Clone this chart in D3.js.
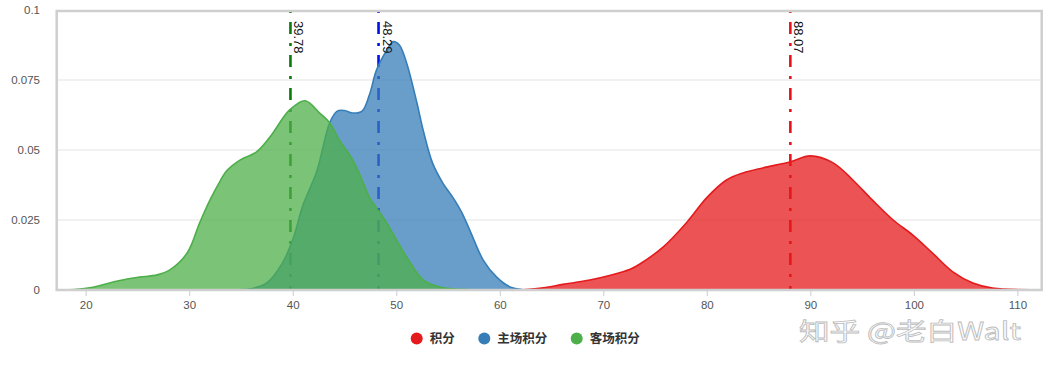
<!DOCTYPE html>
<html>
<head>
<meta charset="utf-8">
<script src="https://cdn.jsdelivr.net/npm/d3@7"></script>
<style>
  body { margin: 0; background: #fff; }
  svg text { font-family: "Liberation Sans", Arial, sans-serif; }
</style>
</head>
<body>
<div id="chart"></div>
<script>
// density curves
const seriesNames = ["积分", "主场积分", "客场积分"];
const seriesColors = ["#e41a1c", "#377eb8", "#4daf4a"];
const meanColors = ["#e8101a", "#0010e8", "#0a7a0a"];
const means = [88.07, 48.29, 39.78];

const totalX = [62.2, 64.2, 66.1, 68.7, 70.6, 72.6, 73.5, 75.8, 78.1, 80.0, 81.9, 83.5, 85.4, 88.0, 90.0, 92.2, 94.1, 96.0, 98.0, 99.9, 101.8, 103.8, 105.7, 107.6, 111.2];
const totalY = [0.0001, 0.0008, 0.0020, 0.0036, 0.0052, 0.0074, 0.0092, 0.0154, 0.0243, 0.0330, 0.0393, 0.0418, 0.0436, 0.0457, 0.0479, 0.0454, 0.0393, 0.0321, 0.0250, 0.0196, 0.0132, 0.0064, 0.0025, 0.0007, 0.0001];

const homeX = [34.2, 35.9, 37.5, 39.0, 40.0, 41.0, 42.3, 43.6, 44.3, 45.0, 45.8, 46.7, 47.4, 48.1, 49.1, 49.7, 50.3, 51.0, 52.0, 52.6, 53.5, 54.5, 55.5, 56.3, 57.1, 58.4, 59.7, 61.0, 62.2];
const homeY = [0.0000, 0.0004, 0.0025, 0.0096, 0.0179, 0.0304, 0.0421, 0.0600, 0.0639, 0.0641, 0.0632, 0.0639, 0.0696, 0.0786, 0.0857, 0.0887, 0.0875, 0.0811, 0.0668, 0.0571, 0.0454, 0.0382, 0.0329, 0.0279, 0.0214, 0.0107, 0.0046, 0.0011, 0.0002];

const awayX = [17.8, 18.9, 20.7, 22.3, 24.0, 25.2, 26.9, 28.1, 29.8, 31.0, 32.0, 33.0, 33.6, 34.9, 36.5, 37.8, 39.7, 41.2, 42.6, 43.6, 44.5, 45.8, 46.7, 47.4, 48.9, 51.0, 52.6, 54.2, 57.1];
const awayY = [0.0001, 0.0002, 0.0010, 0.0025, 0.0039, 0.0046, 0.0054, 0.0071, 0.0132, 0.0239, 0.0321, 0.0390, 0.0425, 0.0464, 0.0493, 0.0546, 0.0643, 0.0676, 0.0632, 0.0596, 0.0536, 0.0464, 0.0393, 0.0332, 0.0250, 0.0118, 0.0036, 0.0011, 0.0002];

const xTicks = [20, 30, 40, 50, 60, 70, 80, 90, 100, 110];
const yTicks = [0, 0.025, 0.05, 0.075, 0.1];
const yTickLabels = ["0", "0.025", "0.05", "0.075", "0.1"];

const W = 1049, H = 365;
const plot = { left: 56.7, right: 1041.7, top: 10, bottom: 290 };

const svg = d3.select("#chart").append("svg")
  .attr("width", W)
  .attr("height", H);

const x = d3.scaleLinear().domain([17.2, 112.35]).range([plot.left, plot.right]);
const y = d3.scaleLinear().domain([0, 0.1]).range([plot.bottom, plot.top]);

// watermark (under everything)
svg.append("text")
  .attr("x", 799).attr("y", 340)
  .attr("textLength", 222)
  .attr("lengthAdjust", "spacingAndGlyphs")
  .style("font-family", "'Noto Sans CJK SC', sans-serif")
  .style("font-size", "24px")
  .attr("fill", "#fff")
  .attr("stroke", "#bdbdbd")
  .attr("stroke-width", 0.8)
  .text("知乎 @老白Walt");

// grid lines
svg.append("g")
  .selectAll("line")
  .data(yTicks.slice(1, 4))
  .enter().append("line")
  .attr("x1", plot.left).attr("x2", plot.right)
  .attr("y1", d => y(d)).attr("y2", d => y(d))
  .attr("stroke", "#e3e3e3").attr("stroke-width", 1);

// y labels
svg.append("g")
  .selectAll("text")
  .data(yTicks)
  .enter().append("text")
  .attr("x", 40)
  .attr("y", d => y(d))
  .attr("dy", "0.35em")
  .attr("text-anchor", "end")
  .style("font-size", "11.5px")
  .attr("fill", "#555")
  .text((d, i) => yTickLabels[i]);

// x axis
const xAxis = svg.append("g")
  .attr("transform", `translate(0,${plot.bottom})`)
  .call(d3.axisBottom(x).tickValues(xTicks).tickSize(6).tickPadding(5).tickFormat(d3.format("d")));
xAxis.select(".domain").remove();
xAxis.selectAll("line").attr("stroke", "#c8ccd4");
xAxis.selectAll("text").style("font-size", "11.5px").attr("fill", "#555");

// mean lines (drawn under the areas)
const meanG = svg.append("g");
means.forEach((m, i) => {
  meanG.append("line")
    .attr("x1", x(m)).attr("x2", x(m))
    .attr("y1", y(0.1)).attr("y2", y(0))
    .attr("stroke", meanColors[i])
    .attr("stroke-width", 2.6)
    .attr("stroke-dasharray", "3,9,12,9");
});

// density areas
const series = [
  { xs: totalX, ys: totalY },
  { xs: homeX, ys: homeY },
  { xs: awayX, ys: awayY }
];

const curve = d3.curveCatmullRom.alpha(0.5);
const area = d3.area()
  .x(d => x(d[0]))
  .y0(y(0))
  .y1(d => y(d[1]))
  .curve(curve);
const line = d3.line()
  .x(d => x(d[0]))
  .y(d => y(d[1]))
  .curve(curve);

series.forEach((s, i) => {
  const pts = s.xs.map((v, j) => [v, s.ys[j]]);
  svg.append("path")
    .attr("d", area(pts))
    .attr("fill", seriesColors[i])
    .attr("fill-opacity", 0.75);
  svg.append("path")
    .attr("d", line(pts))
    .attr("fill", "none")
    .attr("stroke", seriesColors[i])
    .attr("stroke-width", 1.6);
});

// mean labels
means.forEach(m => {
  const lx = x(m) + 4, ly = 21;
  svg.append("text")
    .attr("x", lx).attr("y", ly)
    .attr("transform", `rotate(90,${lx},${ly})`)
    .style("font-size", "13px")
    .attr("fill", "#111")
    .text(m.toFixed(2));
});

// plot border
svg.append("rect")
  .attr("x", plot.left).attr("y", 11)
  .attr("width", plot.right - plot.left)
  .attr("height", plot.bottom - 11)
  .attr("fill", "none")
  .attr("stroke", "#cfcfcf")
  .attr("stroke-width", 2.5);

// legend
const legendX = [416.7, 484.3, 576.7];
const legend = svg.append("g");
seriesNames.forEach((name, i) => {
  legend.append("circle")
    .attr("cx", legendX[i]).attr("cy", 338.5)
    .attr("r", 6)
    .attr("fill", seriesColors[i]);
  legend.append("text")
    .attr("x", legendX[i] + 13).attr("y", 338.5)
    .attr("dy", "0.36em")
    .style("font-family", "'Noto Sans CJK SC', sans-serif")
    .style("font-size", "12.5px")
    .style("font-weight", "bold")
    .attr("fill", "#333")
    .text(name);
});
</script>
</body>
</html>
